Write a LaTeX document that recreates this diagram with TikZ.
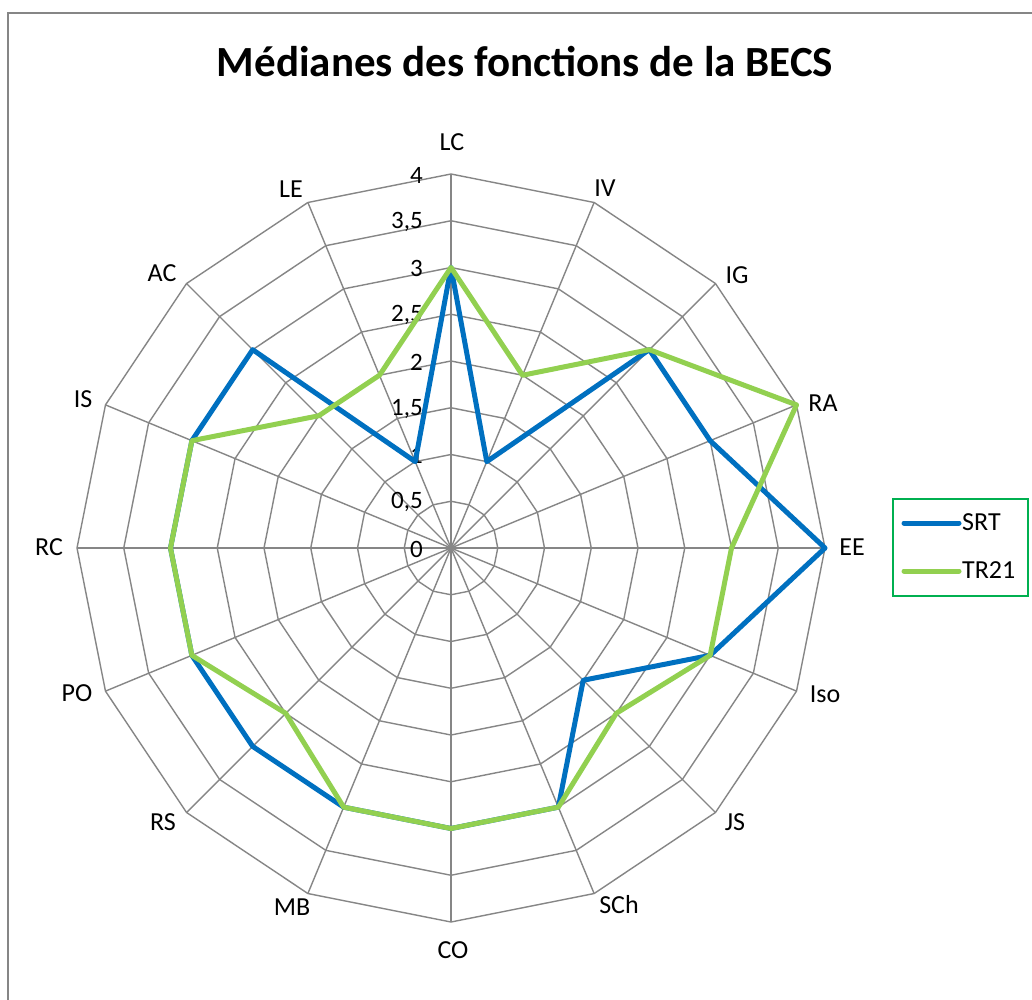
\documentclass[tikz,border=0pt]{standalone}
\usepackage{fontspec}
\setmainfont{Carlito}
\definecolor{gridgray}{HTML}{868686}
\definecolor{srtblue}{HTML}{0070C0}
\definecolor{trgreen}{HTML}{92D050}
\definecolor{legframe}{HTML}{00B050}
\tikzset{
  gridline/.style={draw=gridgray, line width=1.4pt},
  serie/.style={line width=5pt, line join=round, line cap=round},
  axlabel/.style={inner sep=0pt, font=\fontsize{26}{30}\selectfont},
  ticklabel/.style={inner sep=0pt, anchor=east, font=\fontsize{25}{29}\selectfont},
}
\begin{document}
\begin{tikzpicture}[x=1pt,y=1pt]
\useasboundingbox (0,0) rectangle (1032,-999);
\fill[white] (0,0) rectangle (1032,-999);
% outer chart frame
\draw[gridgray, line width=1.5pt] (8,-1010) -- (8,-13) -- (1040,-13);
% title
\node[font=\fontsize{43}{48}\selectfont\bfseries] (title) at (525,-62) {Médianes des fonctions de la BECS};
\begin{scope}[shift={(451,-548)}]
  % grid rings
  \foreach \k in {1,...,8} {
    \draw[gridline] (90:\k*46.75)
      \foreach \a in {112.5,135,...,427.5} { -- (\a:\k*46.75) } -- cycle;
  }
  % spokes
  \foreach \a in {0,22.5,...,337.5} {
    \draw[gridline] (0,0) -- (\a:374);
  }
  % tick labels
  \foreach \v/\t in {0/0,1/{0,5},2/1,3/{1,5},4/2,5/{2,5},6/3,7/{3,5},8/4} {
    \node[ticklabel] (tick\v) at (-28,\v*46.75-1) {\t};
  }
  % data points (value * 93.5)
  \foreach \n/\a/\s/\g in {LC/90/3/3, IV/67.5/1/2, IG/45/3/3, RA/22.5/3/4,
      EE/0/4/3, Iso/-22.5/3/3, JS/-45/2/2.5, SCh/-67.5/3/3, CO/-90/3/3,
      MB/-112.5/3/3, RS/-135/3/2.5, PO/-157.5/3/3, RC/180/3/3, IS/157.5/3/3,
      AC/135/3/2, LE/112.5/1/2} {
    \coordinate (s\n) at (\a:\s*93.5);
    \coordinate (g\n) at (\a:\g*93.5);
  }
  \draw[serie, srtblue] (sLC) -- (sIV) -- (sIG) -- (sRA) -- (sEE) -- (sIso) -- (sJS) -- (sSCh)
     -- (sCO) -- (sMB) -- (sRS) -- (sPO) -- (sRC) -- (sIS) -- (sAC) -- (sLE) -- cycle;
  \draw[serie, trgreen] (gLC) -- (gIV) -- (gIG) -- (gRA) -- (gEE) -- (gIso) -- (gJS) -- (gSCh)
     -- (gCO) -- (gMB) -- (gRS) -- (gPO) -- (gRC) -- (gIS) -- (gAC) -- (gLE) -- cycle;
\end{scope}
% axis labels
\node[axlabel] (lLC) at (452,-142) {LC};
\node[axlabel] (lIV) at (605,-188) {IV};
\node[axlabel] (lIG) at (737,-275) {IG};
\node[axlabel] (lRA) at (823,-403) {RA};
\node[axlabel] (lEE) at (852,-547) {EE};
\node[axlabel] (lIso) at (825,-694) {Iso};
\node[axlabel] (lJS) at (735,-822) {JS};
\node[axlabel] (lSCh) at (619,-905) {SCh};
\node[axlabel] (lCO) at (453,-950) {CO};
\node[axlabel] (lMB) at (292,-907) {MB};
\node[axlabel] (lRS) at (163,-822) {RS};
\node[axlabel] (lPO) at (77,-693) {PO};
\node[axlabel] (lRC) at (49,-547) {RC};
\node[axlabel] (lIS) at (83,-399) {IS};
\node[axlabel] (lAC) at (162,-273) {AC};
\node[axlabel] (lLE) at (291,-189) {LE};
% legend
\node[draw=legframe, line width=1.5pt, minimum width=135pt, minimum height=97pt, inner sep=0pt] (legend) at (960.5,-547.5) {};
\coordinate (ls1) at (904,-523);
\coordinate (le1) at (959,-523);
\coordinate (ls2) at (904,-571);
\coordinate (le2) at (959,-571);
\draw[serie, srtblue] (ls1) -- (le1);
\draw[serie, trgreen] (ls2) -- (le2);
\node[axlabel, anchor=west] (tSRT) at (962,-522) {SRT};
\node[axlabel, anchor=west] (tTR) at (962,-570) {TR21};
\end{tikzpicture}
\end{document}
